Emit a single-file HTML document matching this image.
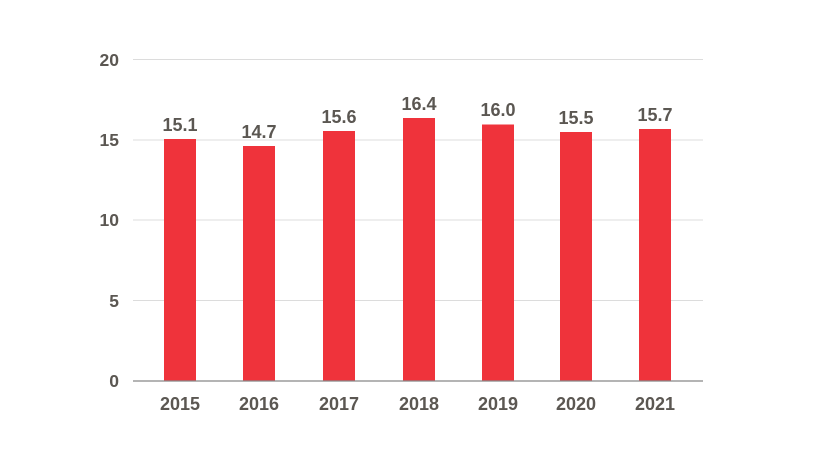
<!DOCTYPE html>
<html><head><style>
html,body{margin:0;padding:0;background:#fff;}
svg{display:block;}
text{font-family:"Liberation Sans",Arial,sans-serif;font-weight:bold;fill:#5b5752;}
</style></head><body>
<svg width="819" height="463" viewBox="0 0 819 463">
<g stroke="#dcdcdc" stroke-width="1">
<line x1="133" y1="59.5" x2="703" y2="59.5"/>
<line x1="133" y1="140" x2="703" y2="140"/>
<line x1="133" y1="220" x2="703" y2="220"/>
<line x1="133" y1="300.5" x2="703" y2="300.5"/>
</g>
<g font-size="17.5" text-anchor="end">
<text x="119" y="66">20</text>
<text x="119" y="146">15</text>
<text x="119" y="226">10</text>
<text x="119" y="307">5</text>
<text x="119" y="387">0</text>
</g>
<g fill="#ef333b">
<rect x="164" y="139" width="32" height="242"/>
<rect x="243" y="146" width="32" height="235"/>
<rect x="323" y="131" width="32" height="250"/>
<rect x="403" y="118" width="32" height="263"/>
<rect x="482" y="124.5" width="32" height="256.5"/>
<rect x="560" y="132" width="32" height="249"/>
<rect x="639" y="129" width="32" height="252"/>
</g>
<line x1="133" y1="381" x2="703" y2="381" stroke="#888" stroke-width="1.3"/>
<g font-size="18" text-anchor="middle">
<text x="180" y="131">15.1</text>
<text x="259" y="138">14.7</text>
<text x="339" y="123">15.6</text>
<text x="419" y="110">16.4</text>
<text x="498" y="116">16.0</text>
<text x="576" y="124">15.5</text>
<text x="655" y="121">15.7</text>
</g>
<g font-size="18" text-anchor="middle">
<text x="180" y="410">2015</text>
<text x="259" y="410">2016</text>
<text x="339" y="410">2017</text>
<text x="419" y="410">2018</text>
<text x="498" y="410">2019</text>
<text x="576" y="410">2020</text>
<text x="655" y="410">2021</text>
</g>
</svg>
</body></html>
